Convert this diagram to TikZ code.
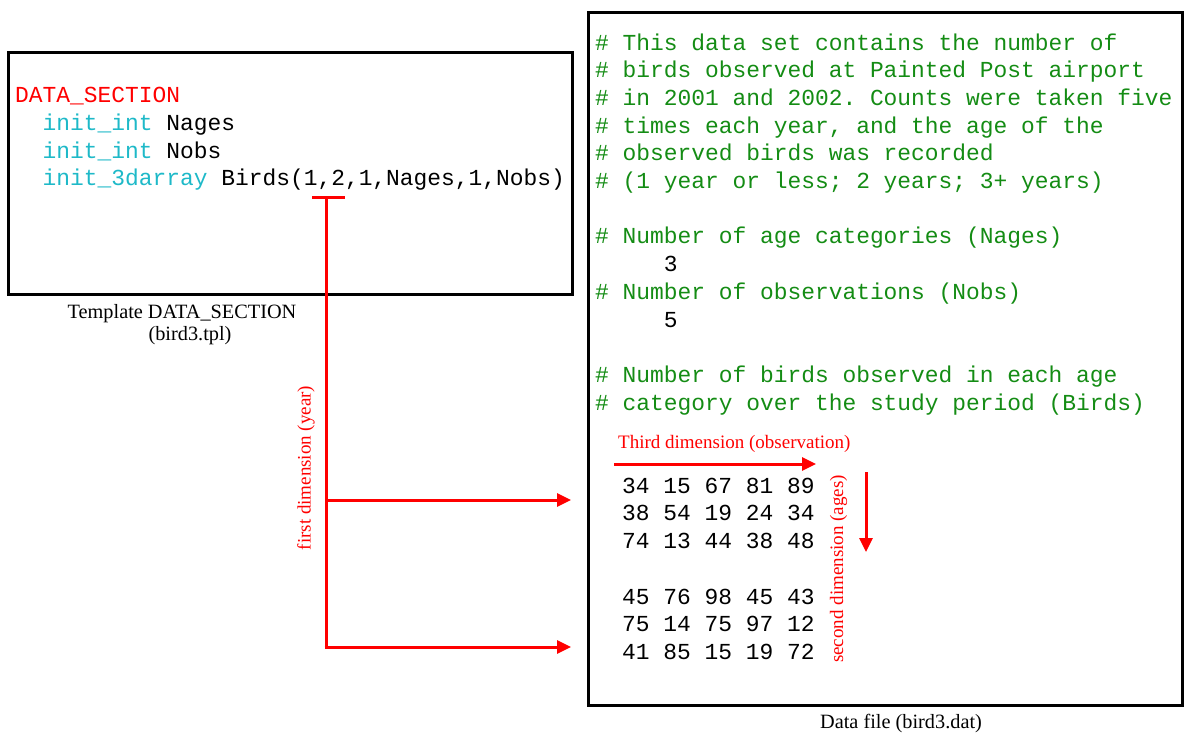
\documentclass[tikz,border=0pt]{standalone}
\usepackage{fontspec}
\setmainfont{Liberation Serif}
\setmonofont{Liberation Mono}
\usetikzlibrary{arrows.meta}
\definecolor{kwred}{RGB}{255,0,0}
\definecolor{kwcyan}{RGB}{30,185,200}
\definecolor{cmtgreen}{RGB}{20,140,20}
\definecolor{annred}{RGB}{255,0,0}
\begin{document}
\begin{tikzpicture}[x=1pt,y=-1pt,
  codeline/.style={font=\fontsize{22.9}{27.7}\selectfont\ttfamily, anchor=base west, inner sep=0pt},
  cmt/.style={codeline, text=cmtgreen},
  ann/.style={font=\fontsize{19}{20}\selectfont, text=annred, inner sep=0pt},
  capt/.style={font=\fontsize{20.3}{22}\selectfont, anchor=base, inner sep=0pt},
  frame/.style={draw=black, line width=3pt},
  redline/.style={draw=annred, line width=3pt},
  redarrow/.style={redline, -{Triangle[length=14pt,width=13pt]}}
]
\useasboundingbox (0,0) rectangle (1185,736);

% template file box
\draw[frame] (8,52) rectangle (572,294);
\node[codeline, text=kwred] (ds) at (15,102.7) {DATA\_SECTION};
\node[codeline] (nages) at (42.5,130.4) {{\color{kwcyan}init\_int} Nages};
\node[codeline] (nobs) at (42.5,158.1) {{\color{kwcyan}init\_int} Nobs};
\node[codeline] (birds) at (42.5,185.8) {{\color{kwcyan}init\_3darray} Birds(1,2,1,Nages,1,Nobs)};
\node[capt] (tcap1) at (182,318) {Template DATA\_SECTION};
\node[capt] (tcap2) at (190,340) {(bird3.tpl)};

% data file box
\draw[frame] (588,12) rectangle (1182,705);
\node[cmt] (c1) at (595,50.0) {\# This data set contains the number of};
\node[cmt] (c2) at (595,77.7) {\# birds observed at Painted Post airport};
\node[cmt] (c3) at (595,105.4) {\# in 2001 and 2002. Counts were taken five};
\node[cmt] (c4) at (595,133.1) {\# times each year, and the age of the};
\node[cmt] (c5) at (595,160.8) {\# observed birds was recorded};
\node[cmt] (c6) at (595,188.5) {\# (1 year or less; 2 years; 3+ years)};
\node[cmt] (c7) at (595,243.9) {\# Number of age categories (Nages)};
\node[codeline] (v3) at (663.75,271.6) {3};
\node[cmt] (c8) at (595,299.3) {\# Number of observations (Nobs)};
\node[codeline] (v5) at (663.75,327.0) {5};
\node[cmt] (c9) at (595,382.4) {\# Number of birds observed in each age};
\node[cmt] (c10) at (595,410.1) {\# category over the study period (Birds)};

% observed counts: two years, three ages by five observations
\node[codeline] (r1) at (622,493.2) {34 15 67 81 89};
\node[codeline] (r2) at (622,520.9) {38 54 19 24 34};
\node[codeline] (r3) at (622,548.6) {74 13 44 38 48};
\node[codeline] (r4) at (622,604.0) {45 76 98 45 43};
\node[codeline] (r5) at (622,631.7) {75 14 75 97 12};
\node[codeline] (r6) at (622,659.4) {41 85 15 19 72};
\node[capt] (dcap) at (901,728) {Data file (bird3.dat)};

% dimension annotations
\node[ann, anchor=base west] (third) at (618,448) {Third dimension (observation)};
\coordinate (thirdA) at (614,464);
\coordinate (thirdB) at (816,464);
\draw[redarrow] (thirdA) -- (thirdB);
\coordinate (secA) at (866,472);
\coordinate (secB) at (866,552);
\draw[redarrow] (secA) -- (secB);
\node[ann, rotate=90] (second) at (838.5,569) {second dimension (ages)};

% first dimension: from the year index to each year block
\coordinate (barL) at (312,197);
\coordinate (barR) at (345,197);
\coordinate (stem) at (326,197);
\coordinate (fork1) at (326,500);
\coordinate (fork2) at (326,647);
\coordinate (yr1) at (571,500);
\coordinate (yr2) at (571,647);
\draw[redline] (barL) -- (barR);
\draw[redline] (stem) -- (fork2);
\draw[redarrow] (fork1) -- (yr1);
\draw[redarrow] ([xshift=-1.5pt]fork2) -- (yr2);
\node[ann, rotate=90] (first) at (306,468) {first dimension (year)};
\end{tikzpicture}
\end{document}
